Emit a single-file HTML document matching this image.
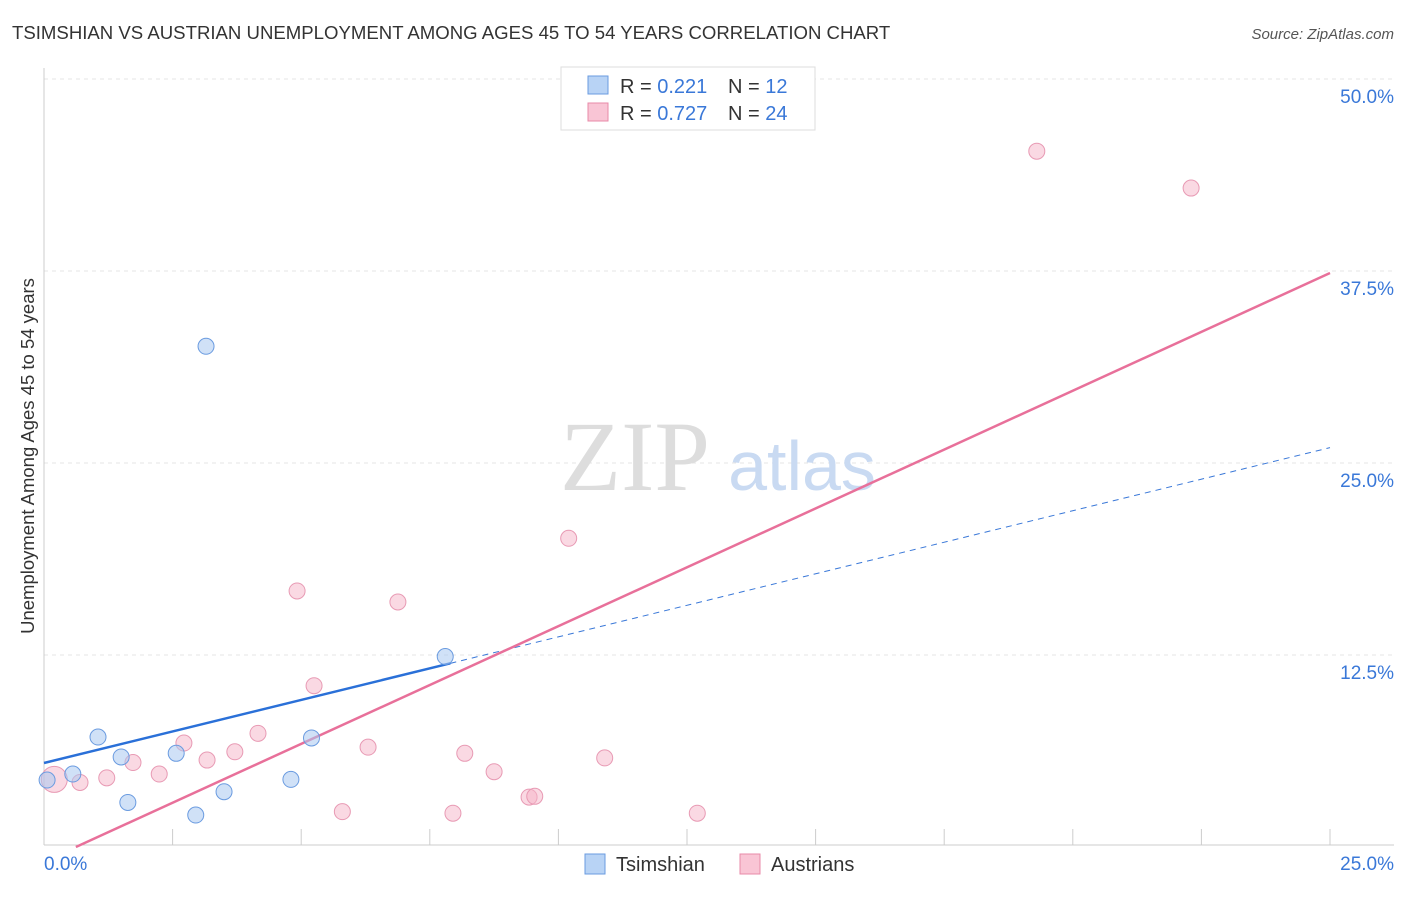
<!DOCTYPE html>
<html><head><meta charset="utf-8"><style>
body{margin:0;background:#fff;font-family:"Liberation Sans",sans-serif}
svg text{font-family:"Liberation Sans",sans-serif}
</style></head><body>
<svg width="1406" height="892">
<text x="12" y="39" font-size="18.6" fill="#333">TSIMSHIAN VS AUSTRIAN UNEMPLOYMENT AMONG AGES 45 TO 54 YEARS CORRELATION CHART</text>
<text x="1394" y="39" font-size="15" fill="#555" text-anchor="end" font-style="italic">Source: ZipAtlas.com</text>
<g id="grid"></g>
<text x="635" y="490" font-size="100" fill="#ddd" text-anchor="middle" font-family="Liberation Serif" style="font-family:'Liberation Serif',serif">ZIP</text>
<text x="802" y="490" font-size="70" fill="#c9daf2" text-anchor="middle">atlas</text>
<text transform="translate(34,456) rotate(-90)" font-size="18.5" fill="#333" text-anchor="middle">Unemployment Among Ages 45 to 54 years</text>
<g id="lines"></g><g id="pts"></g>
<g>
<rect x="561" y="67" width="254" height="63" fill="#fff" stroke="#ddd"/>
<rect x="588" y="76" width="20" height="18" fill="#b8d3f5" stroke="#6a9be0"/>
<rect x="588" y="103" width="20" height="18" fill="#f9c5d5" stroke="#e88aa8"/>
<text x="620" y="93" font-size="20" fill="#333">R = <tspan fill="#3a78d8"> 0.221</tspan></text>
<text x="728" y="93" font-size="20" fill="#333">N = <tspan fill="#3a78d8"> 12</tspan></text>
<text x="620" y="120" font-size="20" fill="#333">R = <tspan fill="#3a78d8">0.727</tspan></text>
<text x="728" y="120" font-size="20" fill="#333">N = <tspan fill="#3a78d8">24</tspan></text>
</g>
<g>
<rect x="585" y="854" width="20" height="20" fill="#b8d3f5" stroke="#6a9be0"/>
<text x="616" y="871" font-size="20" fill="#333">Tsimshian</text>
<rect x="740" y="854" width="20" height="20" fill="#f9c5d5" stroke="#e88aa8"/>
<text x="771" y="871" font-size="20" fill="#333">Austrians</text>
</g>
</svg>
<script>
const yTicks=[12.5,25,37.5,50];
const yTickLabels=["12.5%","25.0%","37.5%","50.0%"];
const tsimX=[0.06,0.56,1.05,1.5,1.63,2.57,2.95,3.15,3.5,4.8,5.2,7.8];
const tsimY=[4.36,4.75,7.16,5.86,2.9,6.1,2.08,32.6,3.6,4.4,7.1,12.4];
const ausX=[0.2,0.7,1.22,1.73,2.24,2.72,3.17,3.71,4.16,4.92,5.25,5.8,6.3,6.88,7.95,8.18,8.75,9.43,9.54,10.2,10.9,12.7,19.3,22.3];
const ausY=[4.4,4.2,4.5,5.5,4.75,6.77,5.66,6.2,7.4,16.67,10.5,2.3,6.5,15.95,2.2,6.1,4.9,3.25,3.3,20.1,5.8,2.2,45.3,42.9];
const tsimLine=[5.47,26.0];
const ausLine=[-0.95,37.37];
const NS="http://www.w3.org/2000/svg";
const X=v=>44+v*51.44, Y=v=>847-v*15.36;
function mk(t,a,p){const e=document.createElementNS(NS,t);for(const k in a)e.setAttribute(k,a[k]);p.appendChild(e);return e;}
const g=document.getElementById('grid');
yTicks.forEach((t,i)=>{
 const l=mk('line',{x1:44,x2:1394,y1:Y(t),y2:Y(t),stroke:'#e4e4e4','stroke-dasharray':'4,4'},g);
 
 
 const tx=mk('text',{x:1394,y:Y(t)+24,'font-size':19,fill:'#3a78d8','text-anchor':'end'},g);
 tx.textContent=yTickLabels[i];
 
 
});
mk('line',{x1:44,x2:44,y1:68,y2:845,stroke:'#ccc'},g);
mk('line',{x1:44,x2:1394,y1:845,y2:845,stroke:'#ccc'},g);
for(let i=1;i<=10;i++){const tk=mk('line',{x1:X(i*2.5),x2:X(i*2.5),y1:829,y2:845,stroke:'#ccc'},g);
 
 }
const x0=mk('text',{x:44,y:870,'font-size':19,fill:'#3a78d8'},g);x0.textContent="0.0%";


const x1=mk('text',{x:1394,y:870,'font-size':19,fill:'#3a78d8','text-anchor':'end'},g);x1.textContent="25.0%";


const L=document.getElementById('lines');
const ty=v=>tsimLine[0]+(tsimLine[1]-tsimLine[0])*v/25;
const ay=v=>ausLine[0]+(ausLine[1]-ausLine[0])*v/25;
let e=mk('line',{x1:X(7.9),y1:Y(ty(7.9)),x2:X(25),y2:Y(ty(25)),stroke:'#3a78d8','stroke-width':1,'stroke-dasharray':'6,5'},L);


e=mk('line',{x1:X(0),y1:Y(ty(0)),x2:X(7.9),y2:Y(ty(7.9)),stroke:'#2a70d8','stroke-width':2.5},L);


const xs=-ausLine[0]/((ausLine[1]-ausLine[0])/25);
e=mk('line',{x1:X(xs),y1:Y(0),x2:X(25),y2:Y(ay(25)),stroke:'#e8709a','stroke-width':2.5},L);


const P=document.getElementById('pts');
ausX.forEach((v,i)=>{const c=mk('circle',{cx:X(v),cy:Y(ausY[i]),r:i==0?13:8,fill:'rgba(246,180,200,0.5)',stroke:'#e89ab4','stroke-width':1},P);
 
 });
tsimX.forEach((v,i)=>{const c=mk('circle',{cx:X(v),cy:Y(tsimY[i]),r:8,fill:'rgba(170,200,240,0.55)',stroke:'#6a9be0','stroke-width':1},P);
 
 });
</script>
</body></html>
